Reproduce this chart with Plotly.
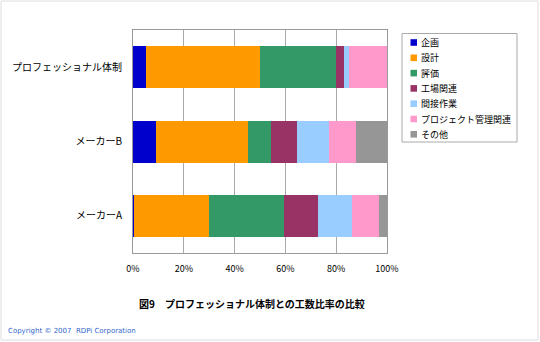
import plotly.graph_objects as go

categories = ["メーカーA", "メーカーB", "プロフェッショナル体制"]
series_names = ["企画", "設計", "評価", "工場関連", "間接作業", "プロジェクト管理関連", "その他"]
kikaku = [0.3, 9.2, 5.0]
sekkei = [29.7, 36.0, 45.1]
hyoka = [29.5, 9.3, 29.7]
kojo = [13.4, 10.2, 3.2]
kansetsu = [13.5, 12.5, 2.1]
pm = [10.5, 10.7, 14.9]
sonota = [3.1, 12.1, 0.0]
tick_vals = [0, 20, 40, 60, 80, 100]
tick_text = ["0%", "20%", "40%", "60%", "80%", "100%"]
title_text = "図9　プロフェッショナル体制との工数比率の比較"
copyright_text = "Copyright © 2007  RDPi Corporation"

values = [kikaku, sekkei, hyoka, kojo, kansetsu, pm, sonota]
colors = ["#0000CC", "#FF9900", "#339966", "#993366", "#99CCFF", "#FF99CC", "#969696"]

JP = "Noto Sans CJK JP"
W, H = 540, 342
L, R, T, B = 133, 153, 30, 89
PW, PH = W - L - R, H - T - B


def px(x):
    return (x - L) / PW


def py(y):
    return (H - B - y) / PH


fig = go.Figure()
for name, vals, col in zip(series_names, values, colors):
    fig.add_trace(go.Bar(y=categories, x=vals, name=name, orientation="h",
                         marker=dict(color=col, line=dict(width=0)), showlegend=False))

fig.update_layout(
    barmode="stack", bargap=0.435,
    width=W, height=H,
    margin=dict(l=L, r=R, t=T, b=B, autoexpand=False),
    paper_bgcolor="white", plot_bgcolor="white",
    font=dict(family=JP, color="black", size=10),
    showlegend=False,
)
fig.update_xaxes(range=[0, 100], tickvals=tick_vals, ticktext=tick_text,
                 showgrid=True, gridcolor="#AAAAAA", gridwidth=1,
                 showline=True, linecolor="#999999", mirror=True,
                 ticks="", tickfont=dict(size=9, family=JP), ticklabelstandoff=7,
                 zeroline=False)
fig.update_yaxes(showgrid=False, showline=True, linecolor="#999999", mirror=True,
                 ticks="", tickfont=dict(size=10, family=JP), ticklabelstandoff=8)

# manual legend (compact, like the reference)
fig.add_shape(type="rect", xref="paper", yref="paper",
              x0=px(402), x1=px(517), y0=py(142), y1=py(33.5),
              line=dict(color="#AAAAAA", width=1), fillcolor="white")
for i, (name, col) in enumerate(zip(series_names, colors)):
    yc = 42.5 + 15.3 * i
    fig.add_shape(type="rect", xref="paper", yref="paper",
                  x0=px(410.5), x1=px(417), y0=py(yc + 3.3), y1=py(yc - 3.3),
                  line=dict(width=0), fillcolor=col)
    fig.add_annotation(text=name, xref="paper", yref="paper", x=px(419), y=py(yc),
                       xanchor="left", yanchor="middle", showarrow=False,
                       font=dict(size=9, family=JP, color="black"))

fig.add_annotation(text=title_text, xref="paper", yref="paper", x=px(252), y=py(303),
                   xanchor="center", yanchor="middle", showarrow=False,
                   font=dict(size=10, family=JP, color="black", weight="bold"))
fig.add_annotation(text=copyright_text, xref="paper", yref="paper",
                   x=px(6), y=py(331), xanchor="left", yanchor="middle",
                   showarrow=False, font=dict(size=7, family="DejaVu Sans", color="#3366CC"))
fig.add_shape(type="rect", xref="paper", yref="paper",
              x0=px(1), x1=px(538), y0=py(340), y1=py(1),
              line=dict(color="#DDDDDD", width=1), fillcolor="rgba(0,0,0,0)", layer="below")

fig.write_html("out.html")
